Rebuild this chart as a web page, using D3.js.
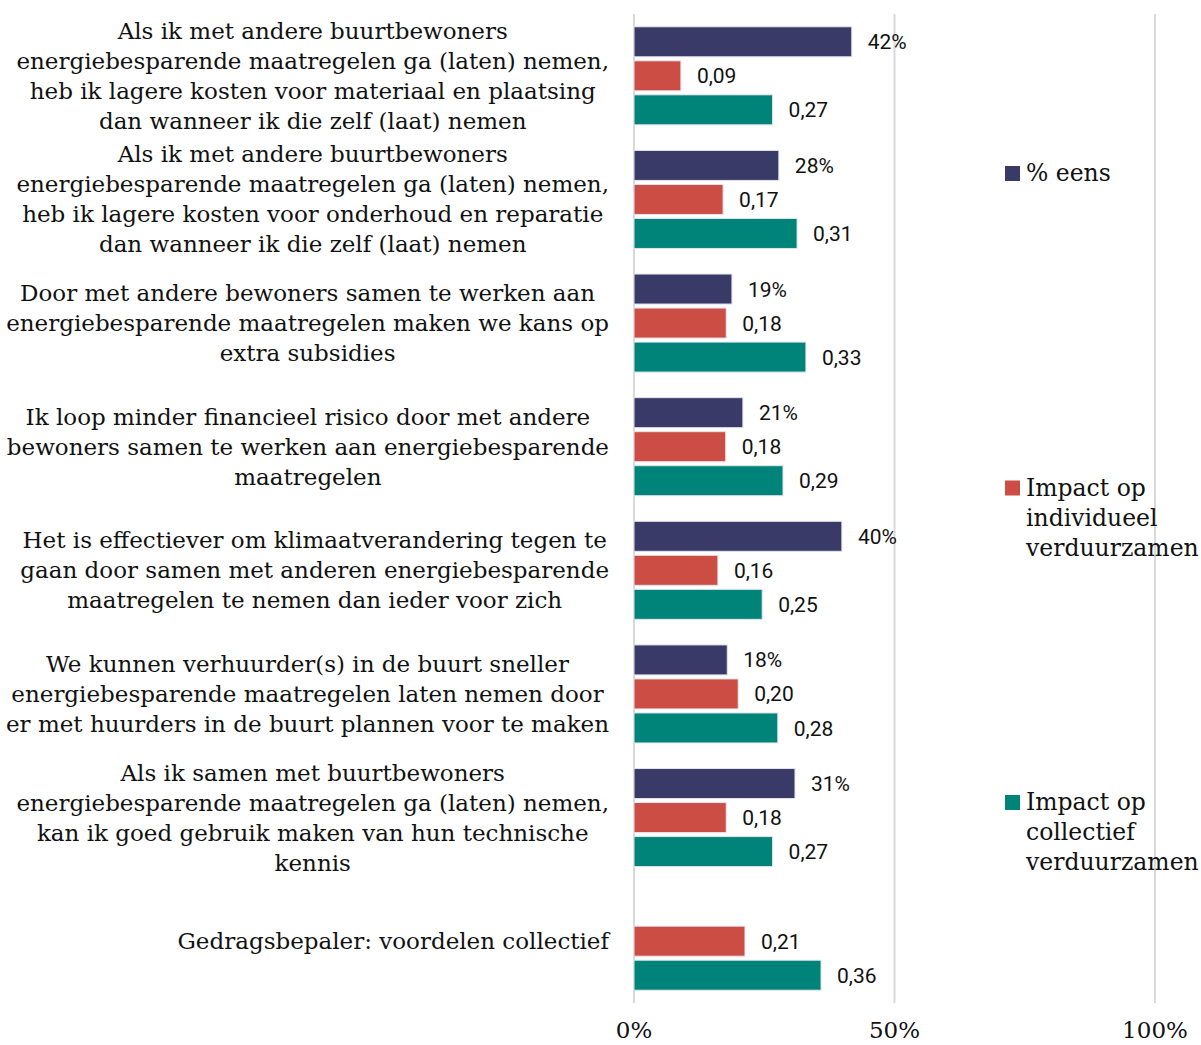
<!DOCTYPE html>
<html>
<head>
<meta charset="utf-8">
<script src="https://cdn.jsdelivr.net/npm/d3@7"></script>
<style>
  body { margin: 0; background: #fff; }
  .cat-label, .legend text, .tick-label { font-family: "DejaVu Serif", serif; fill: #111; }
  .val-label { font-family: Roboto, sans-serif; fill: #111; }
</style>
</head>
<body>
<div id="chart"></div>
<script>
// statements, one array of lines per category
var categories = [
  ["Als ik met andere buurtbewoners", "energiebesparende maatregelen ga (laten) nemen,", "heb ik lagere kosten voor materiaal en plaatsing", "dan wanneer ik die zelf (laat) nemen"],
  ["Als ik met andere buurtbewoners", "energiebesparende maatregelen ga (laten) nemen,", "heb ik lagere kosten voor onderhoud en reparatie", "dan wanneer ik die zelf (laat) nemen"],
  ["Door met andere bewoners samen te werken aan", "energiebesparende maatregelen maken we kans op", "extra subsidies"],
  ["Ik loop minder financieel risico door met andere", "bewoners samen te werken aan energiebesparende", "maatregelen"],
  ["Het is effectiever om klimaatverandering tegen te", "gaan door samen met anderen energiebesparende", "maatregelen te nemen dan ieder voor zich"],
  ["We kunnen verhuurder(s) in de buurt sneller", "energiebesparende maatregelen laten nemen door", "er met huurders in de buurt plannen voor te maken"],
  ["Als ik samen met buurtbewoners", "energiebesparende maatregelen ga (laten) nemen,", "kan ik goed gebruik maken van hun technische", "kennis"],
  ["Gedragsbepaler: voordelen collectief"]
];

var seriesNames = ["% eens", "Impact op individueel verduurzamen", "Impact op collectief verduurzamen"];
var legendLines = [["% eens"], ["Impact op", "individueel", "verduurzamen"], ["Impact op", "collectief", "verduurzamen"]];
var seriesColors = ["#393a68", "#cb4d44", "#00847a"];

var pctEens   = [0.418, 0.278, 0.188, 0.209, 0.399, 0.179, 0.309, null];
var impactInd = [0.090, 0.171, 0.177, 0.176, 0.161, 0.200, 0.177, 0.213];
var impactCol = [0.266, 0.313, 0.330, 0.286, 0.246, 0.276, 0.266, 0.359];

var xTicks = [0, 0.5, 1];

var W = 1201, H = 1045;
var plot = {left: 634, right: 1155, top: 14, bottom: 1003};

var svg = d3.select("#chart").append("svg")
  .attr("width", W)
  .attr("height", H);

var x = d3.scaleLinear().domain([0, 1]).range([plot.left, plot.right]);

var catIdx = d3.range(categories.length);
var y0 = d3.scaleBand().domain(catIdx).range([plot.top, plot.bottom]);
var y1 = d3.scaleBand().domain([0, 1, 2]).range([0, y0.bandwidth()])
  .paddingInner(0.118).paddingOuter(0.376);

// gridlines
svg.append("g").selectAll("line").data(xTicks).join("line")
  .attr("x1", d => x(d)).attr("x2", d => x(d))
  .attr("y1", plot.top).attr("y2", plot.bottom)
  .attr("stroke", "#d9d9d9").attr("stroke-width", 2);

var rows = [];
catIdx.forEach(function(i) {
  [pctEens[i], impactInd[i], impactCol[i]].forEach(function(v, s) {
    if (v != null) rows.push({cat: i, s: s, v: v});
  });
});

function fmt(d) {
  if (d.s === 0) return d3.format(".0%")(d.v);
  return d.v.toFixed(2).replace(".", ",");
}

// bars
svg.append("g").selectAll("rect").data(rows).join("rect")
  .attr("x", x(0))
  .attr("y", d => y0(d.cat) + y1(d.s))
  .attr("width", d => x(d.v) - x(0))
  .attr("height", y1.bandwidth())
  .attr("fill", d => seriesColors[d.s])
  .attr("stroke", "#e4e4ee")
  .attr("stroke-width", 1);

// value labels
svg.append("g").selectAll("text").data(rows).join("text")
  .attr("class", "val-label")
  .attr("x", d => x(d.v) + 16)
  .attr("y", d => y0(d.cat) + y1(d.s) + y1.bandwidth() / 2)
  .attr("dy", "0.36em")
  .attr("font-size", 21)
  .text(fmt);

// category labels: centred block, right aligned to axis
var lineH = 30;
var labelRight = 609;
var catG = svg.append("g");
categories.forEach(function(lines, i) {
  var t = catG.append("text").attr("class", "cat-label").attr("font-size", 23)
    .attr("text-anchor", "middle");
  var cy = y0(i) + y0.bandwidth() / 2;
  lines.forEach(function(l, k) {
    t.append("tspan")
      .attr("y", cy + (k - (lines.length - 1) / 2) * lineH)
      .attr("dy", "0.35em")
      .text(l);
  });
  var maxW = 0;
  t.selectAll("tspan").each(function() { maxW = Math.max(maxW, this.getComputedTextLength()); });
  t.selectAll("tspan").attr("x", labelRight - maxW / 2);
});

// x tick labels
svg.append("g").selectAll("text").data(xTicks).join("text")
  .attr("class", "tick-label")
  .attr("x", d => x(d))
  .attr("y", 1038)
  .attr("text-anchor", "middle")
  .attr("font-size", 23)
  .text(d3.format(".0%"));

// legend
var legend = svg.append("g").attr("class", "legend");
legendLines.forEach(function(lines, s) {
  var ly = 173 + s * 314.5;
  legend.append("rect")
    .attr("x", 1005).attr("y", ly - 7)
    .attr("width", 15).attr("height", 15)
    .attr("fill", seriesColors[s]);
  var t = legend.append("text").attr("font-size", 23.5);
  lines.forEach(function(l, k) {
    t.append("tspan").attr("x", 1026).attr("y", ly + k * lineH).attr("dy", "0.35em").text(l);
  });
});
</script>
</body>
</html>
